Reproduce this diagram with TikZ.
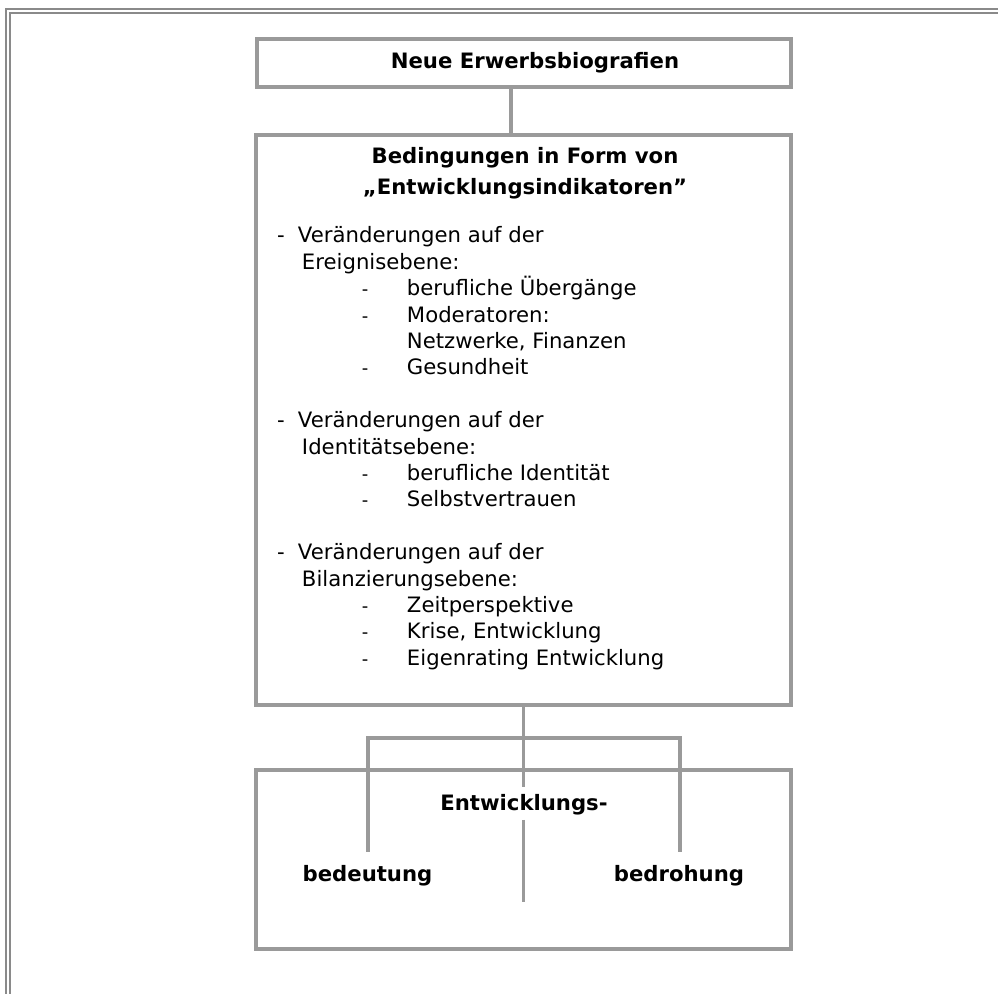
\documentclass[tikz,border=0pt]{standalone}
\usepackage{fontspec}
\setmainfont{DejaVu Sans}
\definecolor{boxgray}{HTML}{9A9A9A}
\definecolor{framegray}{HTML}{8A8A8A}

% list lines: main item, continuation, sub item, blank line
\newcommand\lsMain[1]{\hbox{\makebox[10.5pt][l]{-}#1}}
\newcommand\lsCont[1]{\hbox{\hspace{12.5pt}#1}}
\newcommand\lsSub[1]{\hbox{\hspace{42.5pt}\makebox[22.5pt][l]{\fontsize{9pt}{9pt}\selectfont -}#1}}
\newcommand\lsMore[1]{\hbox{\hspace{65pt}#1}}
\newcommand\lsGap{\hbox{}}

\tikzset{
  every node/.style={font=\fontsize{10.6pt}{13.2pt}\selectfont, inner sep=0pt, outer sep=0pt},
  panel/.style={draw=boxgray, line width=1.75pt, rectangle},
  conn/.style={draw=boxgray, line width=1.75pt},
  frameline/.style={draw=framegray, line width=1pt},
  headline/.style={font=\fontsize{10.6pt}{13.2pt}\selectfont\bfseries, anchor=base},
}

\begin{document}
\begin{tikzpicture}[x=0.5pt, y=-0.5pt]
\useasboundingbox (0,0) rectangle (998,994);

% double frame along the top and left
\draw[frameline] (6,994) -- (6,9) -- (998,9);
\draw[frameline] (10,994) -- (10,13) -- (998,13);

% boxes
\node[panel, minimum width=267pt, minimum height=24pt] (top) at (524,63) {};
\node[panel, minimum width=267.5pt, minimum height=285pt] (mid) at (523.5,420) {};
\node[panel, minimum width=267.5pt, minimum height=89.5pt] (bot) at (523.5,859.5) {};

% texts
\node[headline] (toptext) at (535,69) {Neue Erwerbsbiografien};
\node[headline] (head1) at (525,164) {Bedingungen in Form von};
\node[headline] (head2) at (525,195) {„Entwicklungsindikatoren”};

\node[anchor=base west] (list) at (277,243) {\vtop{\baselineskip=13.2pt
  \lsMain{Veränderungen auf der}
  \lsCont{Ereignisebene:}
  \lsSub{berufliche Übergänge}
  \lsSub{Moderatoren:}
  \lsMore{Netzwerke, Finanzen}
  \lsSub{Gesundheit}
  \lsGap
  \lsMain{Veränderungen auf der}
  \lsCont{Identitätsebene:}
  \lsSub{berufliche Identität}
  \lsSub{Selbstvertrauen}
  \lsGap
  \lsMain{Veränderungen auf der}
  \lsCont{Bilanzierungsebene:}
  \lsSub{Zeitperspektive}
  \lsSub{Krise, Entwicklung}
  \lsSub{Eigenrating Entwicklung}}};

\node[headline] (entw) at (524,811) {Entwicklungs-};
\node[headline] (bedeut) at (367.5,882) {bedeutung};
\node[headline] (bedroh) at (679,882) {bedrohung};

% connector points
\coordinate (upX) at (511,0);
\coordinate (brL) at (368,738);
\coordinate (brR) at (680,738);
\coordinate (legEnd) at (0,852);
\coordinate (stemEnd) at (523.5,787);
\coordinate (lowTop) at (523.5,820);
\coordinate (lowBot) at (523.5,902);

% connectors
\draw[conn] (upX |- top.south) -- (upX |- mid.north);
\draw[conn] (mid.south) -- (stemEnd);
\draw[conn] (brL |- legEnd) -- (brL) -- (brR) -- (brR |- legEnd);
\draw[conn] (lowTop) -- (lowBot);
\end{tikzpicture}
\end{document}
